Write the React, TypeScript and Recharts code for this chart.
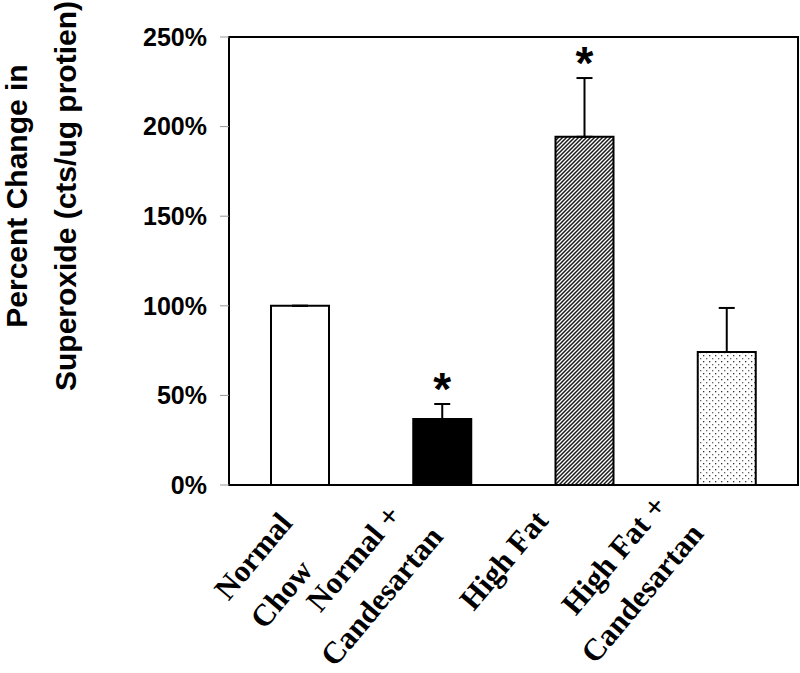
import React from "react";
import {
  BarChart,
  Bar,
  XAxis,
  YAxis,
  ErrorBar,
  Cell,
  LabelList,
  ReferenceArea,
} from "recharts";

const CATEGORIES = ["Normal\nChow", "Normal +\nCandesartan", "High Fat", "High Fat +\nCandesartan"];
const VALUES = [100, 36.8, 194.3, 74.2];
const ERRORS = [0, 8.4, 32.8, 24.6];
const SIGNIFICANT = [false, true, true, false];
const Y_TICKS = [0, 50, 100, 150, 200, 250];
const Y_TITLE = ["Percent Change in", "Superoxide (cts/ug protien)"];

const FILLS = ["#ffffff", "#000000", "url(#hatch)", "url(#dots)"];
// centre of the first line of each rotated category label, relative to its tick (screen px)
const LABEL_OFFSET: [number, number][] = [
  [-47, 71],
  [-89, 73],
  [-81, 75],
  [-113, 70],
];

const data = CATEGORIES.map((name, i) => ({
  name,
  value: VALUES[i],
  err: [0, ERRORS[i]],
  sig: SIGNIFICANT[i],
}));

const SANS = "'Liberation Sans', Arial, Helvetica, sans-serif";
const SERIF = "'Liberation Serif', 'Times New Roman', Times, serif";
const XFONT = 31;

const XTick = (props: any) => {
  const { x, y, payload, index } = props;
  const lines: string[] = String(payload.value).split("\n");
  const [dx, dy] = LABEL_OFFSET[index] || [-80, 75];
  return (
    <g transform={`translate(${x + dx},${y + dy}) rotate(-50)`}>
      {lines.map((ln, i) => (
        <text
          key={i}
          x={-11 * i}
          y={46 * i}
          textAnchor="middle"
          dominantBaseline="central"
          fontFamily={SERIF}
          fontWeight="bold"
          fontSize={XFONT}
          fill="#000"
        >
          {ln}
        </text>
      ))}
    </g>
  );
};

const YTitle = () => (
  <g>
    {Y_TITLE.map((t, i) => {
      const bx = i === 0 ? 26.5 : 76;
      const cy = 196;
      return (
        <text
          key={i}
          x={bx}
          y={cy}
          transform={`rotate(-90, ${bx}, ${cy})`}
          textAnchor="middle"
          fontFamily={SANS}
          fontWeight="bold"
          fontSize={30}
          fill="#000"
        >
          {t}
        </text>
      );
    })}
  </g>
);

const Star = (props: any) => {
  const { x, y, width, height, value, index } = props;
  if (!SIGNIFICANT[index]) return null;
  const perUnit = height / value;
  const top = y - ERRORS[index] * perUnit;
  return (
    <text
      x={x + width / 2}
      y={top + 1}
      textAnchor="middle"
      fontFamily={SANS}
      fontWeight="bold"
      fontSize={46}
      fill="#000"
    >
      *
    </text>
  );
};

export default function App() {
  return (
    <div style={{ position: "absolute", left: 0, top: 0, width: 800, height: 673, background: "#fff" }}>
      <svg width={0} height={0} style={{ position: "absolute" }}>
        <defs>
          <pattern id="hatch" patternUnits="userSpaceOnUse" width={4} height={4}>
            <rect width={4} height={4} fill="#ffffff" />
            <path d="M-1,1 l2,-2 M0,4 l4,-4 M3,5 l2,-2" stroke="#1a1a1a" strokeWidth={1.5} />
          </pattern>
          <pattern id="dots" patternUnits="userSpaceOnUse" width={6} height={6}>
            <rect width={6} height={6} fill="#ffffff" />
            <rect x={1} y={1} width={1.3} height={1.3} fill="#333" />
            <rect x={4} y={4} width={1.3} height={1.3} fill="#666" />
          </pattern>
        </defs>
      </svg>
      <BarChart
        width={800}
        height={673}
        data={data}
        margin={{ top: 37, right: 2, bottom: 0, left: 0 }}
        barSize={58}
      >
        <XAxis
          dataKey="name"
          height={188}
          axisLine={false}
          tickLine={false}
          tickSize={0}
          tickMargin={0}
          interval={0}
          tick={<XTick />}
        />
        <YAxis
          type="number"
          domain={[0, 250]}
          ticks={Y_TICKS}
          width={229}
          axisLine={false}
          tickLine={{ stroke: "#999", strokeWidth: 1 }}
          tickSize={9}
          tickMargin={13}
          tickFormatter={(v: number) => `${v}%`}
          tick={{ fill: "#000", fontSize: 25, fontWeight: "bold", fontFamily: SANS }}
          label={YTitle}
        />
        <Bar dataKey="value" stroke="#000" strokeWidth={2} isAnimationActive={false}>
          {data.map((d, i) => (
            <Cell key={d.name} fill={FILLS[i]} />
          ))}
          <ErrorBar dataKey="err" direction="y" width={8} stroke="#000" strokeWidth={2} isAnimationActive={false} />
          <LabelList dataKey="value" content={<Star />} />
        </Bar>
        <ReferenceArea y1={0} y2={250} fill="none" fillOpacity={0} stroke="#000" strokeWidth={2} ifOverflow="visible" />
      </BarChart>
    </div>
  );
}
